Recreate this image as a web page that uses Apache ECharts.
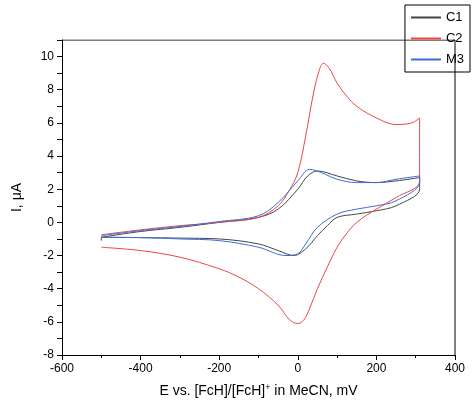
<!DOCTYPE html><html><head><meta charset="utf-8"><script src="https://cdn.jsdelivr.net/npm/echarts@6/dist/echarts.min.js"></script></head><body style="margin:0"><div id="c" style="width:474px;height:415px"></div><script>
const c1 = [[-500,-0.9],[-400,-0.55],[-300,-0.3],[-200,0],[-100,0.3],[-50,0.8],[0,2.0],[25,2.8],[50,3.1],[100,2.8],[150,2.5],[200,2.4],[250,2.5],[310,2.7],[310,2.0],[250,1.0],[200,0.7],[150,0.5],[100,0.3],[75,-0.2],[50,-0.8],[20,-1.6],[-10,-2.0],[-50,-1.7],[-100,-1.3],[-200,-1.0],[-300,-0.95],[-400,-0.92],[-500,-0.9],[-500,-1.1]];
const c2 = [[-500,-0.75],[-400,-0.45],[-300,-0.2],[-200,0],[-100,0.3],[-50,1.0],[-20,2.0],[0,3.0],[20,5.2],[40,7.8],[55,9.2],[65,9.6],[80,9.3],[100,8.4],[125,7.6],[150,7.0],[200,6.3],[250,5.9],[290,6.0],[310,6.3],[310,2.5],[250,1.5],[200,0.8],[150,0.0],[120,-0.8],[100,-1.5],[75,-2.7],[50,-4.0],[30,-5.2],[15,-5.9],[0,-6.1],[-20,-5.9],[-50,-5.0],[-100,-4.0],[-150,-3.3],[-200,-2.8],[-300,-2.1],[-400,-1.7],[-500,-1.5]];
const m3 = [[-500,-0.8],[-400,-0.5],[-300,-0.25],[-200,0.05],[-100,0.4],[-50,1.2],[0,2.5],[30,3.2],[60,3.0],[100,2.6],[150,2.4],[200,2.4],[250,2.6],[310,2.8],[310,2.4],[250,1.3],[200,1.0],[150,0.8],[100,0.5],[50,-0.3],[20,-1.3],[0,-1.9],[-30,-2.0],[-100,-1.5],[-200,-1.1],[-300,-1.0],[-400,-0.92],[-500,-0.9]];
const ch = echarts.init(document.getElementById('c'));
function s(n,d,col){return {name:n,type:'line',data:d,smooth:0.35,showSymbol:false,lineStyle:{width:1,color:col},itemStyle:{color:col}};}
ch.setOption({animation:false,
grid:{left:62,right:19,top:40,bottom:60},
legend:{right:4,top:5,orient:'vertical',itemWidth:30,itemHeight:2,itemGap:8,borderColor:'#000',borderWidth:1,padding:[6,6,6,6],textStyle:{fontSize:13,color:'#000',fontFamily:'Liberation Sans'},icon:'rect'},
xAxis:{type:'value',min:-600,max:400,interval:200,minorTick:{show:true,splitNumber:2,length:3},axisLine:{onZero:false,lineStyle:{color:'#000'}},axisTick:{length:5,lineStyle:{color:'#000'}},splitLine:{show:false},axisLabel:{color:'#000',fontSize:12,fontFamily:'Liberation Sans'},
name:'{a|E vs. [FcH]/[FcH]}{s|+}{a| in MeCN, mV}',nameLocation:'middle',nameGap:28,nameTextStyle:{rich:{a:{fontSize:14,color:'#000',fontFamily:'Liberation Sans'},s:{fontSize:9,color:'#000',verticalAlign:'top',padding:[0,0,8,0],fontFamily:'Liberation Sans'}}}},
yAxis:{type:'value',min:-8,max:11,interval:1,axisLine:{onZero:false,lineStyle:{color:'#000'}},axisTick:{length:5,lineStyle:{color:'#000'}},splitLine:{show:false},axisLabel:{color:'#000',fontSize:12,fontFamily:'Liberation Sans',formatter:v=>(v%2===0?v:'')},
name:'I, μA',nameLocation:'middle',nameGap:38,nameTextStyle:{fontSize:14,color:'#000',fontFamily:'Liberation Sans'}},
series:[s('C1',c1,'#444444'),s('C2',c2,'#ee4444'),s('M3',m3,'#3a6fd8'),
{type:'line',data:[[-600,11],[400,11],[400,-8]],showSymbol:false,silent:true,lineStyle:{color:'#000',width:1}}]
});
</script></body></html>
